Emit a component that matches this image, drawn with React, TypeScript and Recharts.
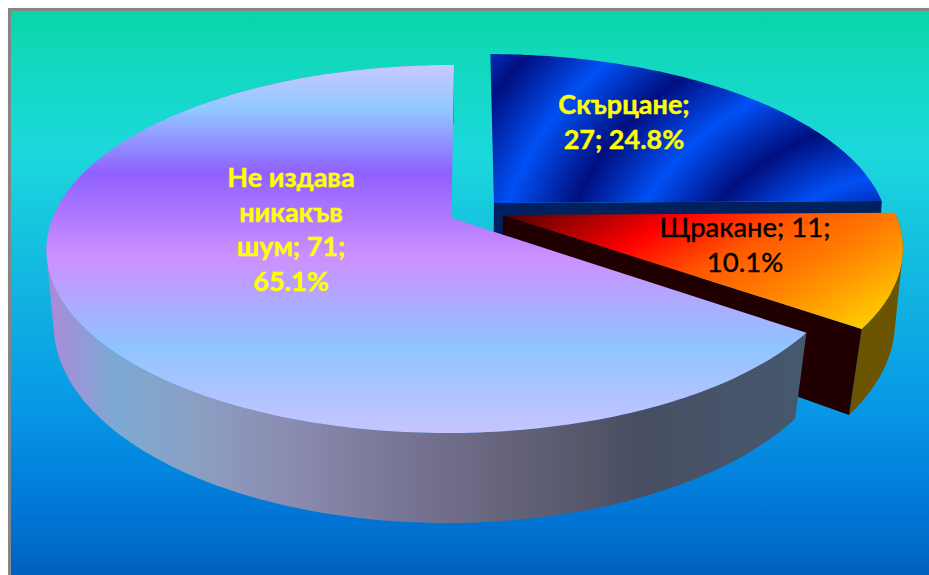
import React from 'react';
import { PieChart, Pie } from 'recharts';

// Survey of noise types
const categories = ['Скърцане', 'Щракане', 'Не издава никакъв шум'];
const values = [27, 11, 71];
const wrapWidths = [10, 12, 9];
const total = values.reduce((a, b) => a + b, 0);

const chartData = categories.map((name, i) => ({ name, value: values[i] }));

// top and bottom faces of the cylinder, each a projected unit disc
const TOP = { cx: 451.5, cy: 249, rx: 402.5, ry: 184, k: 0.168 };
const BOTTOM = { cx: 451.5, cy: 323, rx: 395.5, ry: 200, k: 0.138 };
const SIDE_TILT = 0.005;
const LEAN = 2.5;

// how far each slice is pulled out, in disc units
const explode = [
  { u: 0.108, v: 0.085 },
  { u: 0.13, v: 0.017 },
  { u: 0, v: 0 },
];

const topFills = ['url(#blueTop)', 'url(#orangeTop)', 'url(#lilacTop)'];
const cutFills = ['#002060', '#200000', 'none'];
const rimFills = ['none', '#6b5500', 'url(#lilacRim)'];
const labelColors = ['#ffff00', '#000000', '#ffff00'];
const labelAnchors = [
  { x: 624, y: 114 },
  { x: 745, y: 237 },
  { x: 291, y: 187 },
];
const LINE_HEIGHT = 34.5;

type Face = typeof TOP;
type Pt = { x: number; y: number };

function project(f: Face, u: number, v: number) {
  const w = 1 + f.k * v + SIDE_TILT * u;
  const r = f.rx * Math.sqrt(1 - f.k * f.k);
  return { x: f.cx + (r * u) / w + LEAN * v, y: f.cy - (f.ry * v + f.ry * f.k) / w };
}

const toPath = (pts: Pt[]) =>
  'M' + pts.map((p) => `${p.x.toFixed(1)},${p.y.toFixed(1)}`).join('L') + 'Z';

// same winding for every quad, otherwise overlapping ones cancel out under nonzero fill
function windQuad(pts: Pt[]) {
  let area = 0;
  pts.forEach((p, i) => {
    const q = pts[(i + 1) % pts.length];
    area += p.x * q.y - q.x * p.y;
  });
  return area < 0 ? [...pts].reverse() : pts;
}

function SliceShape(props: any) {
  const { index, startAngle, endAngle } = props;
  const off = explode[index];
  const steps = Math.ceil(Math.abs(startAngle - endAngle));
  const disc: { u: number; v: number }[] = [];
  for (let i = 0; i <= steps; i++) {
    const a = ((startAngle + ((endAngle - startAngle) * i) / steps) * Math.PI) / 180;
    disc.push({ u: Math.cos(a) + off.u, v: Math.sin(a) + off.v });
  }
  const arcTop = disc.map((d) => project(TOP, d.u, d.v));
  const arcBottom = disc.map((d) => project(BOTTOM, d.u, d.v));

  // rim as a strip of quads, so the silhouette stays filled past the tangent points
  let rim = '';
  for (let i = 0; i < steps; i++) {
    rim += toPath(windQuad([arcTop[i], arcTop[i + 1], arcBottom[i + 1], arcBottom[i]]));
  }
  const last = disc[disc.length - 1];
  const cut = toPath([
    project(TOP, off.u, off.v),
    project(TOP, last.u, last.v),
    project(BOTTOM, last.u, last.v),
    project(BOTTOM, off.u, off.v),
  ]);
  const top = toPath([project(TOP, off.u, off.v), ...arcTop]);

  return (
    <g>
      {rimFills[index] !== 'none' && <path d={rim} fill={rimFills[index]} />}
      {cutFills[index] !== 'none' && <path d={cut} fill={cutFills[index]} />}
      <path d={top} fill={topFills[index]} />
    </g>
  );
}

function wrapLabel(text: string, width: number) {
  const lines: string[] = [];
  let line = '';
  text.split(' ').forEach((word) => {
    const next = line ? line + ' ' + word : word;
    if (next.length > width && line) {
      lines.push(line);
      line = word;
    } else {
      line = next;
    }
  });
  lines.push(line);
  return lines;
}

function SliceLabel(props: any) {
  const { index } = props;
  const pct = ((values[index] / total) * 100).toFixed(1);
  const lines = wrapLabel(`${categories[index]}; ${values[index]}; ${pct}%`, wrapWidths[index]);
  const pos = labelAnchors[index];
  return (
    <text
      x={pos.x}
      y={pos.y}
      textAnchor="middle"
      fill={labelColors[index]}
      stroke={labelColors[index]}
      strokeWidth={0.4}
      fontFamily="Lato, 'Open Sans', sans-serif"
      fontWeight={index === 1 ? 400 : 700}
      fontSize={index === 1 ? 27.5 : 27}
    >
      {lines.map((l, i) => (
        <tspan key={i} x={pos.x} y={pos.y + i * LINE_HEIGHT}>
          {l}
        </tspan>
      ))}
    </text>
  );
}

export default function App() {
  return (
    <div style={{ position: 'absolute', left: 0, top: 0, width: 929, height: 575, background: '#fff' }}>
      <div
        style={{
          position: 'absolute',
          left: 8,
          top: 8,
          width: 918,
          height: 564,
          borderLeft: '3px solid #868686',
          borderTop: '3px solid #868686',
          background:
            'linear-gradient(180deg, #09d5a6 0%, #10d8b8 6%, #1cd8dc 25%, #14bce0 44%, #0898e6 70%, #0078d8 88%, #0060be 100%)',
        }}
      />
      <div style={{ position: 'absolute', left: 0, top: 0 }}>
        <PieChart width={929} height={575} margin={{ top: 0, right: 0, bottom: 0, left: 0 }}>
          <defs>
            <linearGradient id="lilacTop" gradientUnits="userSpaceOnUse" x1="0" y1="65" x2="0" y2="433">
              <stop offset="0" stopColor="#c8c8ff" />
              <stop offset="0.122" stopColor="#90c8ff" />
              <stop offset="0.293" stopColor="#9060ff" />
              <stop offset="0.522" stopColor="#cc90ff" />
              <stop offset="0.766" stopColor="#90c4ff" />
              <stop offset="1" stopColor="#c8c4ff" />
            </linearGradient>
            <linearGradient id="lilacRim" gradientUnits="userSpaceOnUse" x1="47" y1="0" x2="805" y2="0">
              <stop offset="0.01" stopColor="#a88cd8" />
              <stop offset="0.09" stopColor="#7caad4" />
              <stop offset="0.19" stopColor="#8aa0c4" />
              <stop offset="0.32" stopColor="#8a8cb0" />
              <stop offset="0.45" stopColor="#7a7898" />
              <stop offset="0.585" stopColor="#68667f" />
              <stop offset="0.716" stopColor="#55566a" />
              <stop offset="0.78" stopColor="#484e62" />
              <stop offset="0.98" stopColor="#46586e" />
            </linearGradient>
            {/* curved navy and blue bands, repeating outward from the lower right */}
            <radialGradient
              id="blueTop"
              gradientUnits="userSpaceOnUse"
              cx="900"
              cy="300"
              r="130"
              spreadMethod="repeat"
              gradientTransform="translate(0 300) scale(1 0.833) translate(0 -300)"
            >
              <stop offset="0" stopColor="#003dd2" />
              <stop offset="0.15" stopColor="#0050f5" />
              <stop offset="0.65" stopColor="#000f80" />
              <stop offset="1" stopColor="#003dd2" />
            </radialGradient>
            <linearGradient id="orangeTop" gradientUnits="userSpaceOnUse" x1="500" y1="216" x2="630" y2="455">
              <stop offset="0" stopColor="#500000" />
              <stop offset="0.32" stopColor="#ff0000" />
              <stop offset="0.525" stopColor="#ff5800" />
              <stop offset="0.686" stopColor="#ff7800" />
              <stop offset="0.81" stopColor="#ff9800" />
              <stop offset="1" stopColor="#ffcc00" />
            </linearGradient>
          </defs>
          <Pie
            data={chartData}
            dataKey="value"
            nameKey="name"
            cx={452}
            cy={249}
            outerRadius={405}
            startAngle={90}
            endAngle={-270}
            stroke="none"
            shape={SliceShape}
            label={SliceLabel}
            labelLine={false}
            isAnimationActive={false}
          />
        </PieChart>
      </div>
    </div>
  );
}
